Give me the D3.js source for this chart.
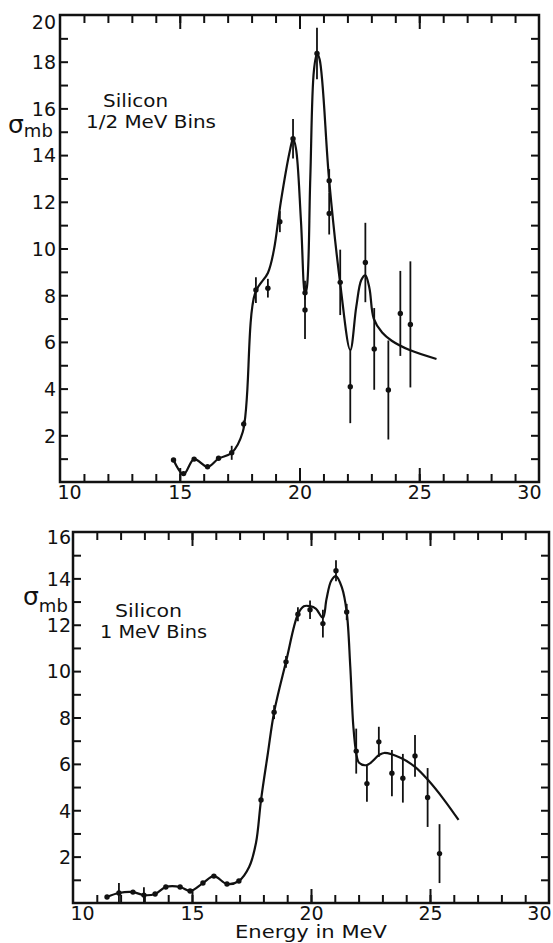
<!DOCTYPE html>
<html>
<head>
<meta charset="utf-8">
<script src="https://cdn.jsdelivr.net/npm/d3@7"></script>
<style>
  html, body { margin: 0; padding: 0; background: #fff; }
  svg { display: block; }
  text { font-family: "DejaVu Sans", sans-serif; fill: #111; }
</style>
</head>
<body>
<svg id="chart" width="553" height="943"></svg>
<script>
// ---------- DATA ----------
// Top panel: Silicon, 1/2 MeV bins
const topEnergy = [14.74, 15.16, 15.6, 16.16, 16.62, 17.17, 17.67, 18.18, 18.68, 19.18, 19.73, 20.23, 20.23, 20.73, 21.24, 21.24, 21.7, 22.12, 22.75, 23.12, 23.71, 24.21, 24.63];
const topSigma  = [0.94, 0.36, 0.98, 0.65, 1.02, 1.25, 2.48, 8.22, 8.3, 11.15, 14.7, 8.1, 7.37, 18.35, 12.9, 11.5, 8.55, 4.08, 9.4, 5.7, 3.94, 7.22, 6.75];
const topError  = [0, 0, 0, 0, 0, 0.3, 0.15, 0.55, 0.4, 0.45, 0.85, 0.3, 1.25, 1.1, 0.5, 0.9, 1.4, 1.56, 1.7, 1.75, 2.12, 1.82, 2.7];
const topCurveE = [14.74, 15.16, 15.6, 16.16, 16.62, 17.17, 17.63, 18.15, 18.68, 18.93, 19.22, 19.6, 19.73, 19.85, 20.06, 20.23, 20.31, 20.45, 20.6, 20.73, 20.84, 21.24, 21.7, 22.12, 22.37, 22.58, 22.75, 22.92, 23.1, 23.45, 23.85, 24.6, 25.72];
const topCurveS = [0.94, 0.33, 0.98, 0.65, 1.0, 1.25, 2.14, 8.1, 8.95, 9.93, 12.0, 14.2, 14.7, 14.3, 11.2, 8.05, 8.35, 13.0, 17.6, 18.35, 18.1, 12.9, 8.5, 5.65, 7.5, 8.65, 8.85, 8.3, 7.0, 6.4, 6.05, 5.65, 5.27];

// Bottom panel: Silicon, 1 MeV bins
const bottomEnergy = [11.43, 11.93, 12.52, 12.98, 13.45, 13.9, 14.5, 14.92, 15.46, 15.92, 16.47, 16.97, 17.9, 18.45, 18.95, 19.45, 19.96, 20.5, 21.05, 21.5, 21.9, 22.35, 22.85, 23.4, 23.86, 24.37, 24.9, 25.4];
const bottomSigma  = [0.26, 0.43, 0.47, 0.34, 0.39, 0.69, 0.69, 0.52, 0.86, 1.16, 0.82, 0.95, 4.44, 8.23, 10.4, 12.45, 12.65, 12.05, 14.33, 12.55, 6.55, 5.15, 6.95, 5.6, 5.38, 6.34, 4.55, 2.13];
const bottomError  = [0, 0.43, 0, 0.34, 0, 0, 0, 0, 0, 0, 0, 0, 0, 0.3, 0.25, 0.3, 0.4, 0.6, 0.45, 0.35, 0.97, 0.78, 0.65, 1.0, 1.05, 0.9, 1.27, 1.27];
const bottomCurveE = [11.43, 11.93, 12.52, 12.98, 13.45, 13.9, 14.5, 14.92, 15.46, 15.92, 16.47, 16.97, 17.4, 17.69, 17.9, 18.19, 18.45, 18.95, 19.45, 19.7, 19.96, 20.2, 20.5, 20.65, 20.85, 21.05, 21.3, 21.5, 21.65, 21.78, 21.9, 22.02, 22.35, 22.86, 23.07, 23.78, 24.37, 24.92, 25.6, 26.2];
const bottomCurveS = [0.26, 0.43, 0.47, 0.34, 0.39, 0.69, 0.69, 0.52, 0.86, 1.16, 0.82, 0.95, 1.55, 2.6, 4.44, 6.47, 8.23, 10.4, 12.45, 12.8, 12.8, 12.7, 12.3, 13.1, 13.9, 14.1, 13.6, 12.55, 10.2, 7.6, 6.47, 6.05, 5.95, 6.38, 6.47, 6.25, 5.87, 5.3, 4.44, 3.58];

// Tick labels
const xTickLabels = [10, 15, 20, 25, 30];
const xMinorTicks = d3.range(11, 30);
const topYTickLabels = [2, 4, 6, 8, 10, 12, 14, 16, 18, 20];
const bottomYTickLabels = [2, 4, 6, 8, 10, 12, 14, 16];

// ---------- DRAW ----------
const svg = d3.select("#chart");
const ink = "#111";

function drawPanel(p) {
  const x = d3.scaleLinear().domain([10, 30]).range([p.left, p.right]);
  const y = d3.scaleLinear().domain([0, p.ymax]).range([p.bottom, p.top]);
  const g = svg.append("g");
  const yMinor = d3.range(1, p.ymax);

  const styleAxis = sel => {
    sel.select(".domain").remove();
    sel.selectAll(".tick line").attr("stroke", ink).attr("stroke-width", 2);
  };
  // minor ticks (inward) on all four sides
  g.append("g").attr("transform", `translate(0,${p.bottom})`)
    .call(d3.axisBottom(x).tickValues(xMinorTicks).tickSize(-8).tickFormat(""))
    .call(styleAxis);
  g.append("g").attr("transform", `translate(0,${p.top})`)
    .call(d3.axisTop(x).tickValues(xMinorTicks).tickSize(-8).tickFormat(""))
    .call(styleAxis);
  // major x ticks (longer) at 15, 20, 25
  g.append("g").attr("transform", `translate(0,${p.bottom})`)
    .call(d3.axisBottom(x).tickValues([15, 20, 25]).tickSize(-14).tickFormat(""))
    .call(styleAxis);
  g.append("g").attr("transform", `translate(0,${p.top})`)
    .call(d3.axisTop(x).tickValues([15, 20, 25]).tickSize(-14).tickFormat(""))
    .call(styleAxis);
  g.append("g").attr("transform", `translate(${p.left},0)`)
    .call(d3.axisLeft(y).tickValues(yMinor).tickSize(-8).tickFormat(""))
    .call(styleAxis);
  g.append("g").attr("transform", `translate(${p.right},0)`)
    .call(d3.axisRight(y).tickValues(yMinor).tickSize(-8).tickFormat(""))
    .call(styleAxis);

  // x labels
  const xl = g.append("g").attr("transform", `translate(0,${p.bottom})`)
    .call(d3.axisBottom(x).tickValues(xTickLabels).tickSize(0).tickPadding(p.xPad).tickFormat(d3.format("d")));
  xl.select(".domain").remove();
  xl.selectAll("text").attr("font-size", 19).attr("font-family", "DejaVu Sans").attr("fill", ink)
    .attr("text-anchor", d => d === 10 ? "start" : d === 30 ? "end" : "middle")
    .attr("dx", d => d === 10 ? -3 : d === 30 ? 2 : 0);

  // y labels
  const yl = g.append("g").attr("transform", `translate(${p.left},0)`)
    .call(d3.axisLeft(y).tickValues(p.yLabels).tickSize(0).tickPadding(p.yPad).tickFormat(d3.format("d")));
  yl.select(".domain").remove();
  yl.selectAll("text").attr("font-size", 19).attr("font-family", "DejaVu Sans").attr("fill", ink)
    .attr("dy", d => d === p.ymax ? (p.topShift + "px") : "0.36em");

  // frame
  g.append("rect").attr("x", p.left).attr("y", p.top)
    .attr("width", p.right - p.left).attr("height", p.bottom - p.top)
    .attr("fill", "none").attr("stroke", ink).attr("stroke-width", 2.5);

  // fitted curve
  const curvePts = p.curveE.map((e, i) => [e, p.curveS[i]]);
  g.append("path").datum(curvePts)
    .attr("fill", "none").attr("stroke", ink).attr("stroke-width", 2.2)
    .attr("stroke-linejoin", "round")
    .attr("d", d3.line().x(d => x(d[0])).y(d => y(d[1])).curve(d3.curveCatmullRom.alpha(0.5)));

  // data points with error bars
  const pts = p.energy.map((e, i) => ({ e, s: p.sigma[i], err: p.error[i] }));
  g.append("g").selectAll("line").data(pts.filter(d => d.err > 0)).join("line")
    .attr("x1", d => x(d.e)).attr("x2", d => x(d.e))
    .attr("y1", d => y(Math.max(0, d.s - d.err))).attr("y2", d => y(d.s + d.err))
    .attr("stroke", ink).attr("stroke-width", 1.8);
  g.append("g").selectAll("circle").data(pts).join("circle")
    .attr("cx", d => x(d.e)).attr("cy", d => y(d.s)).attr("r", 2.7).attr("fill", ink);

  // sigma label
  const sl = g.append("text").attr("x", p.sigX).attr("y", p.sigY);
  sl.append("tspan").attr("font-size", 25).text("σ");
  sl.append("tspan").attr("font-size", 18).attr("dy", p.subDy).text("mb");

  // annotation
  g.append("text").attr("x", p.t1x).attr("y", p.t1y).attr("font-size", 17)
    .attr("textLength", p.t1w).attr("lengthAdjust", "spacingAndGlyphs").text("Silicon");
  g.append("text").attr("x", p.t2x).attr("y", p.t2y).attr("font-size", 17)
    .attr("textLength", p.t2w).attr("lengthAdjust", "spacingAndGlyphs").text(p.binText);

  return { x, y };
}

drawPanel({
  left: 60, right: 539, top: 15, bottom: 482, ymax: 20,
  yLabels: topYTickLabels, xPad: 3, yPad: 4, topShift: 13,
  energy: topEnergy, sigma: topSigma, error: topError,
  curveE: topCurveE, curveS: topCurveS,
  sigX: 8, sigY: 133, subDy: 4,
  t1x: 103, t1y: 107, t1w: 65,
  t2x: 86, t2y: 128, t2w: 130, binText: "1/2 MeV Bins"
});

drawPanel({
  left: 73, right: 549, top: 532, bottom: 903, ymax: 16,
  yLabels: bottomYTickLabels, xPad: 3, yPad: 2, topShift: 11,
  energy: bottomEnergy, sigma: bottomSigma, error: bottomError,
  curveE: bottomCurveE, curveS: bottomCurveS,
  sigX: 23, sigY: 605, subDy: 7,
  t1x: 115, t1y: 617, t1w: 67,
  t2x: 100, t2y: 638, t2w: 107, binText: "1 MeV Bins"
});

// x axis title (bottom panel)
svg.append("text").attr("x", 235).attr("y", 938).attr("font-size", 17)
  .attr("textLength", 152).attr("lengthAdjust", "spacingAndGlyphs")
  .text("Energy in MeV");
</script>
</body>
</html>
